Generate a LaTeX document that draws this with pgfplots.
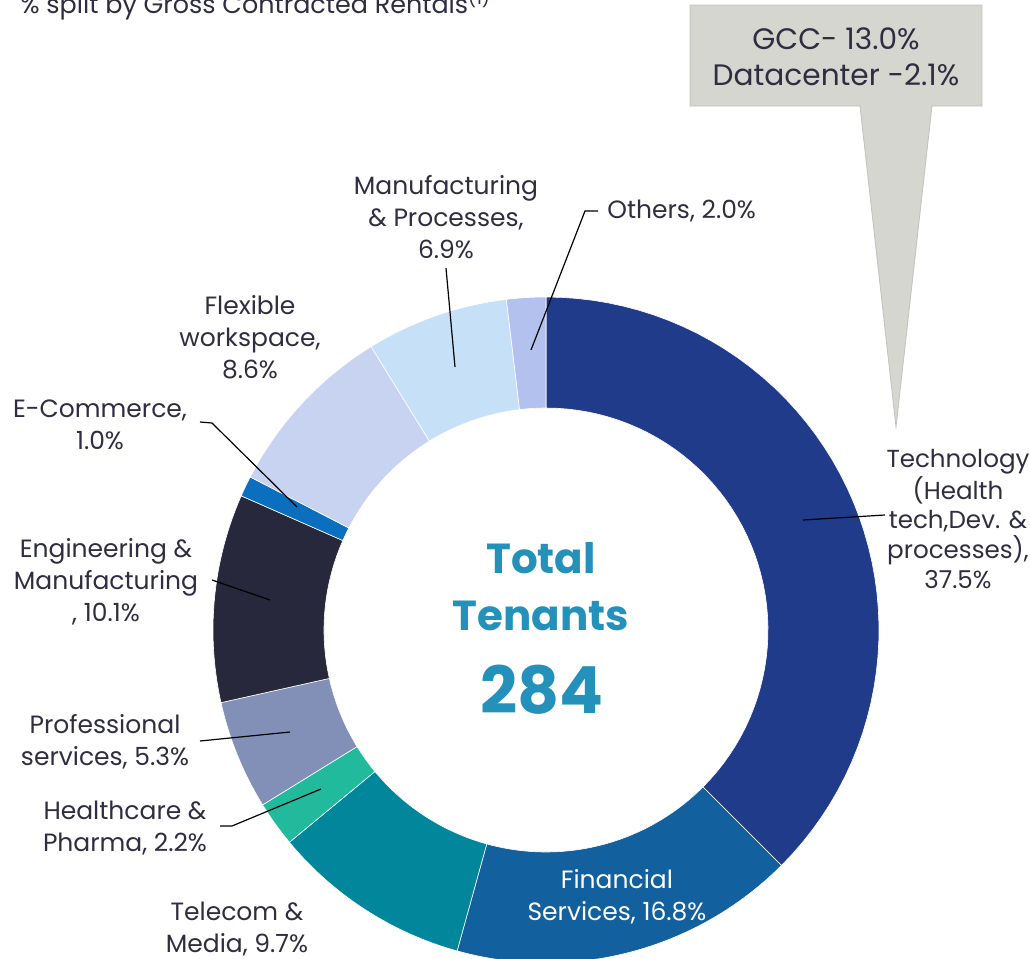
\documentclass[border=0pt]{standalone}
\usepackage{fontspec}
\setmainfont{Poppins}
\usepackage{pgfplots}
\pgfplotsset{compat=1.18}
\definecolor{cTech}{HTML}{213B8B}
\definecolor{cFin}{HTML}{12609D}
\definecolor{cTel}{HTML}{02869B}
\definecolor{cHea}{HTML}{22BA9D}
\definecolor{cPro}{HTML}{8290B8}
\definecolor{cEng}{HTML}{28283C}
\definecolor{cEco}{HTML}{0B6FBF}
\definecolor{cFle}{HTML}{C8D2F1}
\definecolor{cMan}{HTML}{C6E0F8}
\definecolor{cOth}{HTML}{B3C1EE}
\definecolor{cCen}{HTML}{2391BA}
\definecolor{cTxt}{HTML}{2E2E40}
\definecolor{cBox}{HTML}{D6D6D0}
\definecolor{cBoxE}{HTML}{C2C2BE}
\tikzset{lab/.style={font=\fontsize{12.5}{16}\selectfont, text=cTxt, align=center, inner sep=0pt}}
% sector: colour, cumulative start (%), share (%)
\newcommand\sector[3]{%
\addplot[fill=#1, draw=white, line width=0.3pt, samples at={0,1,...,101}, variable=\t]
 ({546+(\t<50.5 ? 333 : 222)*cos(\t<50.5 ? (90-3.6*#2-3.6*#3*\t/50) : (90-3.6*(#2+#3)+3.6*#3*(\t-51)/50))},
  {630-(\t<50.5 ? 333 : 222)*sin(\t<50.5 ? (90-3.6*#2-3.6*#3*\t/50) : (90-3.6*(#2+#3)+3.6*#3*(\t-51)/50))}) -- cycle;}
\begin{document}
\begin{tikzpicture}
\useasboundingbox (0,0) rectangle (515pt,479.5pt);
\clip (0,0) rectangle (515pt,479.5pt);
\begin{axis}[at={(0,0)}, anchor=south west, width=515pt, height=479.5pt, scale only axis,
  xmin=0, xmax=1030, ymin=0, ymax=959, y dir=reverse, hide axis, clip=false]
\sector{cTech}{0}{37.5}
\sector{cFin}{37.5}{16.8}
\sector{cTel}{54.3}{9.7}
\sector{cHea}{64.0}{2.2}
\sector{cPro}{66.2}{5.3}
\sector{cEng}{71.5}{10.1}
\sector{cEco}{81.6}{1.0}
\sector{cFle}{82.6}{8.6}
\sector{cMan}{91.2}{6.9}
\sector{cOth}{98.1}{1.9}
% centre text
\node[text=cCen, font=\fontsize{21}{26}\selectfont\bfseries] at (axis cs:541,558) {Total};
\node[text=cCen, font=\fontsize{21}{26}\selectfont\bfseries] at (axis cs:541,616) {Tenants};
\node[text=cCen, font=\fontsize{32.5}{36}\selectfont\bfseries] at (axis cs:542,690) {284};
% title
\node[lab, anchor=base west, font=\fontsize{12.7}{16}\selectfont] at (axis cs:20,13) {\% split by Gross Contracted Rentals\textsuperscript{(1)}};
% callout
\draw[fill=cBox, draw=cBoxE, line width=0.4pt] (axis cs:690,5) -- (axis cs:982,5) -- (axis cs:982,106) -- (axis cs:932,106) -- (axis cs:896,427) -- (axis cs:860,106) -- (axis cs:690,106) -- cycle;
\node[text=cTxt, font=\fontsize{14.8}{18}\selectfont, align=center] at (axis cs:836,57) {GCC- 13.0\%\\Datacenter -2.1\%};
% leader lines
\draw[black, line width=0.6pt] (axis cs:446,268) -- (axis cs:455,367);
\draw[black, line width=0.6pt] (axis cs:598,211) -- (axis cs:585,211) -- (axis cs:531,350);
\draw[black, line width=0.6pt] (axis cs:200,422) -- (axis cs:212,423) -- (axis cs:297,507);
\draw[black, line width=0.6pt] (axis cs:212,580) -- (axis cs:270,600);
\draw[black, line width=0.6pt] (axis cs:200,741) -- (axis cs:290,732);
\draw[black, line width=0.6pt] (axis cs:220,826) -- (axis cs:232,826) -- (axis cs:321,789);
\draw[black, line width=0.6pt] (axis cs:885,515) -- (axis cs:803,520);
% labels
\node[lab] at (axis cs:446,217) {Manufacturing\\\& Processes,\\6.9\%};
\node[lab, anchor=west] at (axis cs:607,211) {Others, 2.0\%};
\node[lab] at (axis cs:250,337) {Flexible\\workspace,\\8.6\%};
\node[lab] at (axis cs:100,425) {E-Commerce,\\1.0\%};
\node[lab] at (axis cs:106,582) {Engineering \&\\Manufacturing\\, 10.1\%};
\node[lab] at (axis cs:105,742) {Professional\\services, 5.3\%};
\node[lab] at (axis cs:125,828) {Healthcare \&\\Pharma, 2.2\%};
\node[lab] at (axis cs:237,929) {Telecom \&\\Media, 9.7\%};
\node[lab, text=white] at (axis cs:617,897) {Financial\\Services, 16.8\%};
\node[lab, font=\fontsize{12.3}{14.8}\selectfont] at (axis cs:958,519) {Technology\\(Health\\tech,Dev. \&\\processes),\\37.5\%};
\end{axis}
\end{tikzpicture}
\end{document}
